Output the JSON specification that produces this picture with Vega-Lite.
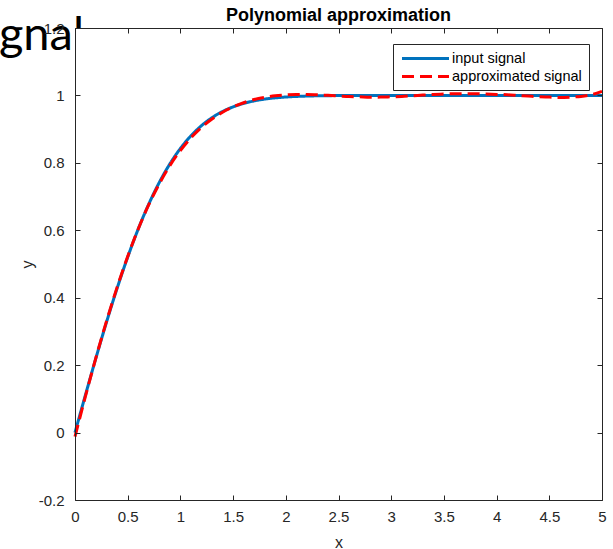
{
  "$schema": "https://vega.github.io/schema/vega-lite/v6.json",
  "autosize": {"type": "none"},
  "padding": {"left": 75, "top": 28, "right": 11, "bottom": 49},
  "width": 527,
  "height": 472,
  "background": "white",
  "config": {
    "view": {"stroke": null},
    "font": "Liberation Sans",
    "axis": {
      "grid": false,
      "zindex": 1,
      "domainColor": "#262626",
      "tickColor": "#262626",
      "labelColor": "#262626",
      "titleColor": "#262626",
      "labelFont": "Liberation Sans",
      "titleFont": "Liberation Sans",
      "labelFontSize": 15,
      "titleFontSize": 16,
      "titleFontWeight": "normal",
      "tickSize": -5,
      "domainWidth": 1,
      "tickWidth": 1
    }
  },
  "title": {
    "text": "Polynomial approximation",
    "fontSize": 18,
    "fontWeight": "bold",
    "font": "Liberation Sans",
    "color": "black",
    "anchor": "middle",
    "frame": "group",
    "offset": -13
  },
  "datasets": {
    "signals": [
      {"x": 0.0, "y": 0.0, "series": "input signal"},
      {"x": 0.1, "y": 0.1125, "series": "input signal"},
      {"x": 0.2, "y": 0.2227, "series": "input signal"},
      {"x": 0.3, "y": 0.3286, "series": "input signal"},
      {"x": 0.4, "y": 0.4284, "series": "input signal"},
      {"x": 0.5, "y": 0.5205, "series": "input signal"},
      {"x": 0.6, "y": 0.6039, "series": "input signal"},
      {"x": 0.7, "y": 0.6778, "series": "input signal"},
      {"x": 0.8, "y": 0.7421, "series": "input signal"},
      {"x": 0.9, "y": 0.7969, "series": "input signal"},
      {"x": 1.0, "y": 0.8427, "series": "input signal"},
      {"x": 1.1, "y": 0.8802, "series": "input signal"},
      {"x": 1.2, "y": 0.9103, "series": "input signal"},
      {"x": 1.3, "y": 0.934, "series": "input signal"},
      {"x": 1.4, "y": 0.9523, "series": "input signal"},
      {"x": 1.5, "y": 0.9661, "series": "input signal"},
      {"x": 1.6, "y": 0.9763, "series": "input signal"},
      {"x": 1.7, "y": 0.9838, "series": "input signal"},
      {"x": 1.8, "y": 0.9891, "series": "input signal"},
      {"x": 1.9, "y": 0.9928, "series": "input signal"},
      {"x": 2.0, "y": 0.9953, "series": "input signal"},
      {"x": 2.1, "y": 0.997, "series": "input signal"},
      {"x": 2.2, "y": 0.9981, "series": "input signal"},
      {"x": 2.3, "y": 0.9989, "series": "input signal"},
      {"x": 2.4, "y": 0.9993, "series": "input signal"},
      {"x": 2.5, "y": 0.9996, "series": "input signal"},
      {"x": 2.6, "y": 0.9998, "series": "input signal"},
      {"x": 2.7, "y": 0.9999, "series": "input signal"},
      {"x": 2.8, "y": 0.9999, "series": "input signal"},
      {"x": 2.9, "y": 1.0, "series": "input signal"},
      {"x": 3.0, "y": 1.0, "series": "input signal"},
      {"x": 3.5, "y": 1.0, "series": "input signal"},
      {"x": 4.0, "y": 1.0, "series": "input signal"},
      {"x": 4.5, "y": 1.0, "series": "input signal"},
      {"x": 5.0, "y": 1.0, "series": "input signal"},
      {"x": 0.0, "y": -0.012, "series": "approximated signal"},
      {"x": 0.1, "y": 0.1085, "series": "approximated signal"},
      {"x": 0.2, "y": 0.2237, "series": "approximated signal"},
      {"x": 0.3, "y": 0.3316, "series": "approximated signal"},
      {"x": 0.4, "y": 0.4314, "series": "approximated signal"},
      {"x": 0.5, "y": 0.5225, "series": "approximated signal"},
      {"x": 0.6, "y": 0.6039, "series": "approximated signal"},
      {"x": 0.7, "y": 0.6758, "series": "approximated signal"},
      {"x": 0.8, "y": 0.7381, "series": "approximated signal"},
      {"x": 0.9, "y": 0.7919, "series": "approximated signal"},
      {"x": 1.0, "y": 0.8367, "series": "approximated signal"},
      {"x": 1.1, "y": 0.8742, "series": "approximated signal"},
      {"x": 1.2, "y": 0.9053, "series": "approximated signal"},
      {"x": 1.3, "y": 0.93, "series": "approximated signal"},
      {"x": 1.4, "y": 0.9503, "series": "approximated signal"},
      {"x": 1.5, "y": 0.9661, "series": "approximated signal"},
      {"x": 1.6, "y": 0.9783, "series": "approximated signal"},
      {"x": 1.7, "y": 0.9878, "series": "approximated signal"},
      {"x": 1.8, "y": 0.9941, "series": "approximated signal"},
      {"x": 1.9, "y": 0.9988, "series": "approximated signal"},
      {"x": 2.0, "y": 1.0013, "series": "approximated signal"},
      {"x": 2.1, "y": 1.003, "series": "approximated signal"},
      {"x": 2.2, "y": 1.0031, "series": "approximated signal"},
      {"x": 2.3, "y": 1.0019, "series": "approximated signal"},
      {"x": 2.4, "y": 1.0003, "series": "approximated signal"},
      {"x": 2.5, "y": 0.9986, "series": "approximated signal"},
      {"x": 2.6, "y": 0.9968, "series": "approximated signal"},
      {"x": 2.7, "y": 0.9959, "series": "approximated signal"},
      {"x": 2.8, "y": 0.9949, "series": "approximated signal"},
      {"x": 2.9, "y": 0.995, "series": "approximated signal"},
      {"x": 3.0, "y": 0.996, "series": "approximated signal"},
      {"x": 3.1, "y": 0.997, "series": "approximated signal"},
      {"x": 3.2, "y": 0.999, "series": "approximated signal"},
      {"x": 3.3, "y": 1.001, "series": "approximated signal"},
      {"x": 3.4, "y": 1.003, "series": "approximated signal"},
      {"x": 3.5, "y": 1.004, "series": "approximated signal"},
      {"x": 3.6, "y": 1.005, "series": "approximated signal"},
      {"x": 3.7, "y": 1.005, "series": "approximated signal"},
      {"x": 3.8, "y": 1.005, "series": "approximated signal"},
      {"x": 3.9, "y": 1.004, "series": "approximated signal"},
      {"x": 4.0, "y": 1.003, "series": "approximated signal"},
      {"x": 4.1, "y": 1.002, "series": "approximated signal"},
      {"x": 4.2, "y": 1.0, "series": "approximated signal"},
      {"x": 4.3, "y": 0.998, "series": "approximated signal"},
      {"x": 4.4, "y": 0.996, "series": "approximated signal"},
      {"x": 4.5, "y": 0.995, "series": "approximated signal"},
      {"x": 4.6, "y": 0.994, "series": "approximated signal"},
      {"x": 4.7, "y": 0.995, "series": "approximated signal"},
      {"x": 4.8, "y": 0.997, "series": "approximated signal"},
      {"x": 4.9, "y": 1.002, "series": "approximated signal"},
      {"x": 5.0, "y": 1.012, "series": "approximated signal"}
    ]
  },
  "layer": [
    {
      "data": {"values": [{"label": "gnal"}]},
      "mark": {"type": "text", "font": "Lato", "fontSize": 47, "align": "right", "baseline": "alphabetic", "color": "black"},
      "encoding": {
        "x": {"datum": 0.0854, "type": "quantitative", "axis": null},
        "y": {"datum": 1.1347, "type": "quantitative", "axis": null},
        "text": {"field": "label"}
      }
    },
    {
      "data": {"values": [{}]},
      "mark": {"type": "rect", "fill": "white", "stroke": null},
      "encoding": {
        "x": {"datum": 0.003, "type": "quantitative", "axis": {"orient": "top", "labels": false, "title": null, "zindex": 1, "values": [0, 0.5, 1, 1.5, 2, 2.5, 3, 3.5, 4, 4.5, 5]}},
        "x2": {"datum": 0.13},
        "y": {"datum": 1.1, "type": "quantitative", "axis": {"orient": "right", "labels": false, "title": null, "zindex": 1, "values": [-0.2, 0, 0.2, 0.4, 0.6, 0.8, 1, 1.2]}},
        "y2": {"datum": 1.197}
      }
    },
    {
      "data": {"name": "signals"},
      "mark": {"type": "line", "strokeWidth": 3, "interpolate": "monotone"},
      "encoding": {
        "x": {
          "field": "x", "type": "quantitative",
          "scale": {"domain": [0, 5], "nice": false, "zero": false},
          "axis": {"orient": "bottom", "title": "x", "zindex": 1, "values": [0, 0.5, 1, 1.5, 2, 2.5, 3, 3.5, 4, 4.5, 5], "labelExpr": "'' + datum.value", "labelPadding": 14, "titlePadding": 10, "labelFlush": false}
        },
        "y": {
          "field": "y", "type": "quantitative",
          "scale": {"domain": [-0.2, 1.2], "nice": false, "zero": false},
          "axis": {"orient": "left", "title": "y", "zindex": 1, "values": [-0.2, 0, 0.2, 0.4, 0.6, 0.8, 1, 1.2], "labelExpr": "'' + datum.value", "labelPadding": 16, "titlePadding": 3, "labelFlush": false}
        },
        "color": {
          "field": "series", "type": "nominal",
          "scale": {"domain": ["input signal", "approximated signal"], "range": ["#0072BD", "#FF0000"]},
          "legend": {
            "orient": "none", "legendX": 318, "legendY": 16, "title": null,
            "strokeColor": "#262626", "fillColor": "white", "padding": 7,
            "symbolType": "M-4,0H4", "symbolSize": 138, "symbolStrokeWidth": 3, "symbolOffset": 18,
            "labelFont": "Liberation Sans", "labelFontSize": 14.5, "labelColor": "black",
            "labelOffset": 19, "rowPadding": 3, "zindex": 2
          }
        },
        "strokeDash": {
          "field": "series", "type": "nominal",
          "scale": {"domain": ["input signal", "approximated signal"], "range": [[1, 0], [12, 6]]},
          "legend": {
            "orient": "none", "legendX": 318, "legendY": 16, "title": null,
            "strokeColor": "#262626", "fillColor": "white", "padding": 7,
            "symbolType": "M-4,0H4", "symbolSize": 138, "symbolStrokeWidth": 3, "symbolOffset": 18,
            "labelFont": "Liberation Sans", "labelFontSize": 14.5, "labelColor": "black",
            "labelOffset": 19, "rowPadding": 3, "zindex": 2
          }
        },
        "order": {"field": "series", "sort": "descending"}
      }
    }
  ]
}
